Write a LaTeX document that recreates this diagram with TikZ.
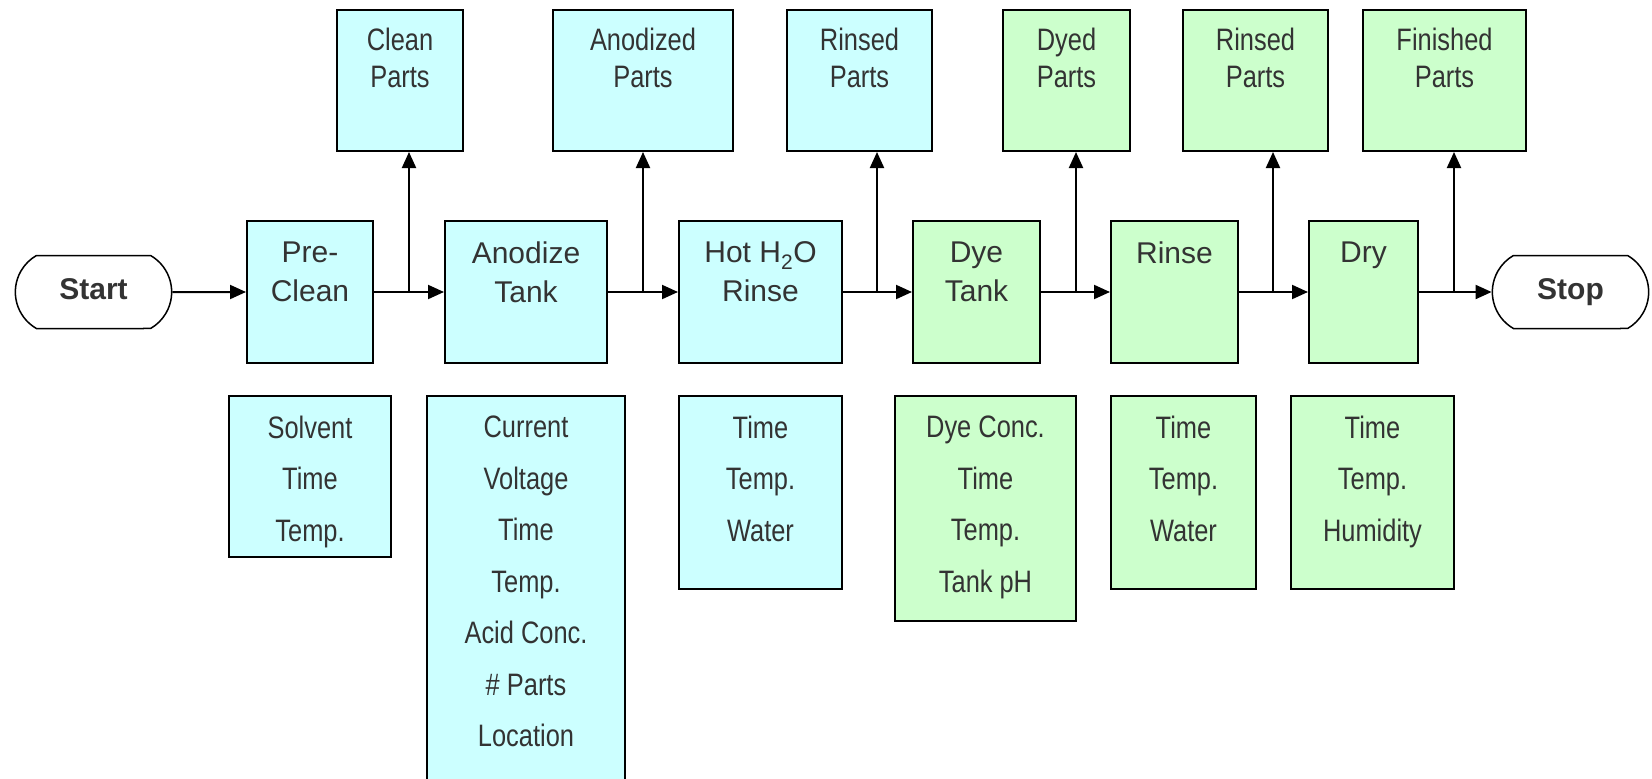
\documentclass[tikz,border=0pt]{standalone}
\usepackage{fontspec}
\setmainfont{Liberation Sans}
\newfontfamily\narrowfont{Liberation Sans}[FakeStretch=0.82]
\usepackage{xcolor}
\usetikzlibrary{arrows.meta,shapes.misc}
\definecolor{procblue}{HTML}{CCFFFF}
\definecolor{procgreen}{HTML}{CCFFCC}
\definecolor{txtgray}{HTML}{333333}

\begin{document}
\begin{tikzpicture}[x=1pt,y=-1pt, line width=2pt,
  box/.style={draw,inner sep=0pt},
  proc/.style={box,minimum height=142pt},
  outp/.style={box,anchor=north,minimum height=141pt},
  parm/.style={box,anchor=north},
  term/.style={draw,line width=1.5pt,rounded rectangle,rounded rectangle arc length=120,minimum width=163pt,minimum height=73pt,font=\fontsize{30}{36}\selectfont\bfseries,text=txtgray,text height=21.5pt,text depth=6pt},
  ptxt/.style={anchor=north,inner sep=0pt,yshift=-21pt,align=center,text=txtgray,font=\fontsize{30}{39}\selectfont},
  otxt/.style={anchor=north,inner sep=0pt,yshift=-18pt,align=center,text=txtgray,font=\narrowfont\fontsize{31}{37}\selectfont},
  mtxt/.style={anchor=north,inner sep=0pt,yshift=-20pt,align=center,text=txtgray,font=\narrowfont\fontsize{31}{51.5}\selectfont},
  arr/.style={-{Triangle[length=16pt,width=14pt]},line width=2pt}]
\useasboundingbox (0,0) rectangle (1652,779);
\node[term] (start) at (93.5,292) {Start};
\node[proc,fill=procblue,minimum width=126pt,label={[ptxt]north:Pre-\\Clean}] (pre) at (310,292) {};
\node[proc,fill=procblue,minimum width=162pt,label={[ptxt]north:Anodize\\Tank}] (anod) at (526,292) {};
\node[proc,fill=procblue,minimum width=163pt,label={[ptxt]north:Hot H\textsubscript{2}O\\Rinse}] (hot) at (760.5,292) {};
\node[proc,fill=procgreen,minimum width=127pt,label={[ptxt]north:Dye\\Tank}] (dye) at (976.5,292) {};
\node[proc,fill=procgreen,minimum width=127pt,label={[ptxt]north:Rinse}] (rinse) at (1174.5,292) {};
\node[proc,fill=procgreen,minimum width=109pt,label={[ptxt]north:Dry}] (dry) at (1363.5,292) {};
\node[term] (stop) at (1570.5,292) {Stop};

\node[outp,fill=procblue,minimum width=126pt,label={[otxt]north:Clean\\Parts}] (cleanP) at (400,9) {};
\node[outp,fill=procblue,minimum width=180pt,label={[otxt]north:Anodized\\Parts}] (anodP) at (643,9) {};
\node[outp,fill=procblue,minimum width=145pt,label={[otxt]north:Rinsed\\Parts}] (rinsedP) at (859.5,9) {};
\node[outp,fill=procgreen,minimum width=127pt,label={[otxt]north:Dyed\\Parts}] (dyedP) at (1066.5,9) {};
\node[outp,fill=procgreen,minimum width=145pt,label={[otxt]north:Rinsed\\Parts}] (rinsedQ) at (1255.5,9) {};
\node[outp,fill=procgreen,minimum width=163pt,label={[otxt]north:Finished\\Parts}] (finP) at (1444.5,9) {};

\node[parm,fill=procblue,minimum width=162pt,minimum height=161pt,label={[mtxt]north:Solvent\\Time\\Temp.}] (preM) at (310,395) {};
\node[parm,fill=procblue,minimum width=198pt,minimum height=387pt,label={[mtxt]north:Current\\Voltage\\Time\\Temp.\\Acid Conc.\\\# Parts\\Location}] (anodM) at (526,395) {};
\node[parm,fill=procblue,minimum width=163pt,minimum height=193pt,label={[mtxt]north:Time\\Temp.\\Water}] (hotM) at (760.5,395) {};
\node[parm,fill=procgreen,minimum width=181pt,minimum height=225pt,label={[mtxt]north:Dye Conc.\\Time\\Temp.\\Tank pH}] (dyeM) at (985.5,395) {};
\node[parm,fill=procgreen,minimum width=145pt,minimum height=193pt,label={[mtxt]north:Time\\Temp.\\Water}] (rinseM) at (1183.5,395) {};
\node[parm,fill=procgreen,minimum width=163pt,minimum height=193pt,label={[mtxt]north:Time\\Temp.\\Humidity}] (dryM) at (1372.5,395) {};

\coordinate (b1) at (409,292); \coordinate (b2) at (643,292); \coordinate (b3) at (877,292);
\coordinate (b4) at (1076,292); \coordinate (b5) at (1273,292); \coordinate (b6) at (1454,292);
\draw[arr] (start)--(pre); \draw[arr] (pre)--(anod); \draw[arr] (anod)--(hot); \draw[arr] (hot)--(dye);
\draw[arr] (dye)--(rinse); \draw[arr] (rinse)--(dry); \draw[arr] (dry)--(stop);
\draw[arr] (b1)--(b1 |- cleanP.south); \draw[arr] (b2)--(b2 |- anodP.south); \draw[arr] (b3)--(b3 |- rinsedP.south);
\draw[arr] (b4)--(b4 |- dyedP.south); \draw[arr] (b5)--(b5 |- rinsedQ.south); \draw[arr] (b6)--(b6 |- finP.south);
\end{tikzpicture}
\end{document}
